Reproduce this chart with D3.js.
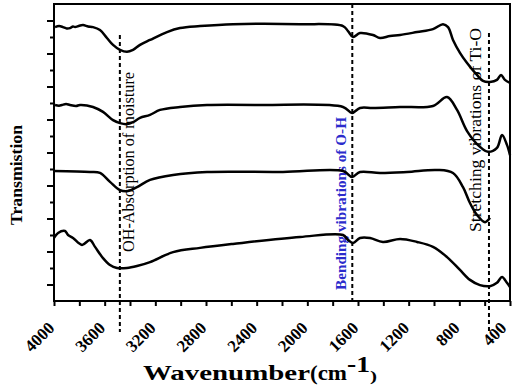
<!DOCTYPE html>
<html lang="en">
<head>
<meta charset="UTF-8">
<script src="https://cdn.jsdelivr.net/npm/d3@7"></script>
<title>FTIR</title>
<style>
  body { margin: 0; background: #fff; }
  svg { display: block; font-family: "Liberation Serif", "Times New Roman", serif; }
</style>
</head>
<body>
<script>
// spectra: [wavenumber (cm-1), transmission (a.u.)], top to bottom
const curve1 = [[3992,83.0],[3960,83.3],[3929,83.0],[3900,82.6],[3874,82.7],[3850,83.2],[3834,83.0],[3800,83.4],[3771,83.6],[3730,83.2],[3692,83.0],[3637,82.1],[3582,79.7],[3534,77.6],[3479,76.1],[3424,75.5],[3376,76.1],[3321,77.6],[3242,79.1],[3108,81.5],[3005,82.7],[2847,83.3],[2587,83.9],[2058,83.9],[1718,83.3],[1679,81.8],[1639,80.0],[1584,81.2],[1482,80.6],[1426,79.7],[1347,80.3],[1268,80.6],[1134,81.5],[1008,82.4],[929,83.9],[889,83.0],[850,79.1],[795,75.2],[739,72.1],[661,68.5],[613,66.7],[558,66.4],[503,67.0],[471,68.5],[440,67.0],[400,66.1]]
const curve2 = [[3992,59.4],[3960,59.2],[3937,59.4],[3905,59.7],[3874,59.4],[3826,59.1],[3795,59.4],[3692,58.8],[3613,57.3],[3534,54.8],[3479,53.9],[3424,53.6],[3376,54.2],[3321,55.5],[3242,56.4],[3163,57.9],[3005,58.8],[2792,59.4],[2374,59.4],[1718,58.8],[1647,57.0],[1584,58.5],[1482,58.5],[1268,58.8],[1008,59.1],[897,61.8],[818,57.9],[739,51.5],[637,46.7],[574,45.2],[503,46.4],[463,50.3],[424,47.3],[400,44.2]]
const curve3 = [[4000,39.4],[3716,39.1],[3637,38.8],[3558,36.1],[3479,33.6],[3416,33.3],[3345,34.5],[3242,36.7],[3060,38.2],[2792,39.1],[2192,39.1],[1718,39.4],[1647,37.6],[1584,39.1],[1426,38.8],[1213,39.1],[976,39.7],[850,38.8],[771,34.5],[716,29.7],[661,26.1],[597,23.9],[558,25.2]]
const curve4 = [[4000,19.1],[3968,20.6],[3913,21.2],[3889,20.0],[3850,19.1],[3779,17.0],[3716,18.5],[3676,16.4],[3613,13.0],[3558,10.9],[3503,10.0],[3424,10.0],[3345,10.6],[3242,11.8],[3060,14.8],[2847,16.1],[2587,17.3],[2058,19.4],[1718,20.0],[1679,18.5],[1639,17.6],[1584,19.1],[1505,19.1],[1403,17.9],[1268,18.8],[1134,17.9],[1008,16.4],[897,13.3],[795,9.4],[716,6.4],[637,4.8],[558,4.5],[503,5.5],[463,7.3],[424,5.5],[400,4.2]]
const curves = [curve1, curve2, curve3, curve4]

// axis ticks
const xTicks  = d3.range(4000, 399, -200)
const xLabels = [4000, 3600, 3200, 2800, 2400, 2000, 1600, 1200, 800, 400]
const yMajor  = [5, 15, 25, 35, 45, 55, 65, 75, 85]
const yMinor  = [10, 20, 30, 40, 50, 60, 70, 80]

// band assignments
const bandText = ["OH-Absorption of moisture", "Bending vibrations of O-H", "Stretching vibrations of Ti-O"]
const bandWn   = [3480, 1645, 566]

const width = 512, height = 389
const m = {left: 54, right: 510, top: 4, bottom: 301}

const svg = d3.select("body").append("svg").attr("width", width).attr("height", height)

const x = d3.scaleLinear().domain([4000, 400]).range([m.left, m.right])
const y = d3.scaleLinear().domain([0, 90]).range([m.bottom, m.top])

// band labels + dashed markers (drawn under the spectra)
const bandLayout = [
  {y1: 80.6, y2: -9.4, tx: 134, ty: 252, len: 180, color: "#000", weight: "normal", size: 16},
  {y1: 90,   y2: 0,    tx: 346, ty: 290, len: 173, color: "#2b2bcc", weight: "bold", size: 15},
  {y1: 81.2, y2: -9.4, tx: 481, ty: 232, len: 204, color: "#000", weight: "normal", size: 17}
]
bandText.forEach((t, i) => {
  const L = bandLayout[i]
  svg.append("line")
    .attr("x1", x(bandWn[i])).attr("x2", x(bandWn[i]))
    .attr("y1", y(L.y1)).attr("y2", y(L.y2))
    .attr("stroke", "#000").attr("stroke-width", 2)
    .attr("stroke-dasharray", "4,3")
  svg.append("text")
    .attr("transform", `translate(${L.tx},${L.ty}) rotate(-90)`)
    .attr("font-size", L.size)
    .attr("font-weight", L.weight)
    .attr("fill", L.color)
    .attr("textLength", L.len)
    .attr("lengthAdjust", "spacingAndGlyphs")
    .text(t)
})

// spectra
const line = d3.line().x(d => x(d[0])).y(d => y(d[1])).curve(d3.curveCatmullRom.alpha(0.5))
svg.selectAll(".spec")
  .data(curves)
  .enter()
  .append("path")
  .attr("class", "spec")
  .attr("d", line)
  .attr("fill", "none")
  .attr("stroke", "#000")
  .attr("stroke-width", 2.5)
  .attr("stroke-linejoin", "round")

// x axis
const xAxis = d3.axisBottom(x).tickValues(xTicks).tickSize(5).tickSizeOuter(0)
  .tickFormat(d => xLabels.includes(d) ? d : "")
const gx = svg.append("g").attr("transform", `translate(0,${m.bottom})`).call(xAxis)
gx.select(".domain").remove()
gx.selectAll("line").attr("stroke", "#000").attr("stroke-width", 2)
gx.selectAll("text")
  .attr("x", 0).attr("y", 0).attr("dy", 0)
  // last label sits at the right edge, pull it in so it stays in the window
  .attr("transform", d => d === 400 ? "translate(-3,28) rotate(-45)" : "translate(1,28) rotate(-45)")
  .attr("text-anchor", "end")
  .attr("font-family", "Liberation Serif, serif")
  .attr("font-weight", "bold")
  .attr("font-size", 17)
  .attr("fill", "#000")

// y axis, major and minor ticks, no labels
const gy = svg.append("g").attr("transform", `translate(${m.left},0)`)
gy.append("g").call(d3.axisLeft(y).tickValues(yMajor).tickSize(7).tickSizeOuter(0).tickFormat(""))
gy.append("g").call(d3.axisLeft(y).tickValues(yMinor).tickSize(4).tickSizeOuter(0).tickFormat(""))
gy.selectAll(".domain").remove()
gy.selectAll("line").attr("stroke", "#000").attr("stroke-width", 2)

// frame
svg.append("rect")
  .attr("x", m.left).attr("y", m.top)
  .attr("width", m.right - m.left).attr("height", m.bottom - m.top)
  .attr("fill", "none").attr("stroke", "#000").attr("stroke-width", 2)

// titles
svg.append("text")
  .attr("transform", "translate(22,175) rotate(-90)")
  .attr("text-anchor", "middle")
  .attr("font-weight", "bold").attr("font-size", 16)
  .attr("textLength", 100).attr("lengthAdjust", "spacingAndGlyphs")
  .text("Transmistion")

const title = [
  {t: "Wavenumber", x: 143, y: 380, size: 22, len: 167},
  {t: "(cm", x: 310, y: 380, size: 20, len: 37},
  {t: "-1", x: 347, y: 372, size: 24, len: 23},
  {t: ")", x: 370, y: 381, size: 15, len: 7}
]
svg.selectAll(".xtitle")
  .data(title)
  .enter()
  .append("text")
  .attr("class", "xtitle")
  .attr("x", d => d.x).attr("y", d => d.y)
  .attr("font-weight", "bold")
  .attr("font-size", d => d.size)
  .attr("textLength", d => d.len)
  .attr("lengthAdjust", "spacingAndGlyphs")
  .text(d => d.t)
</script>
</body>
</html>
